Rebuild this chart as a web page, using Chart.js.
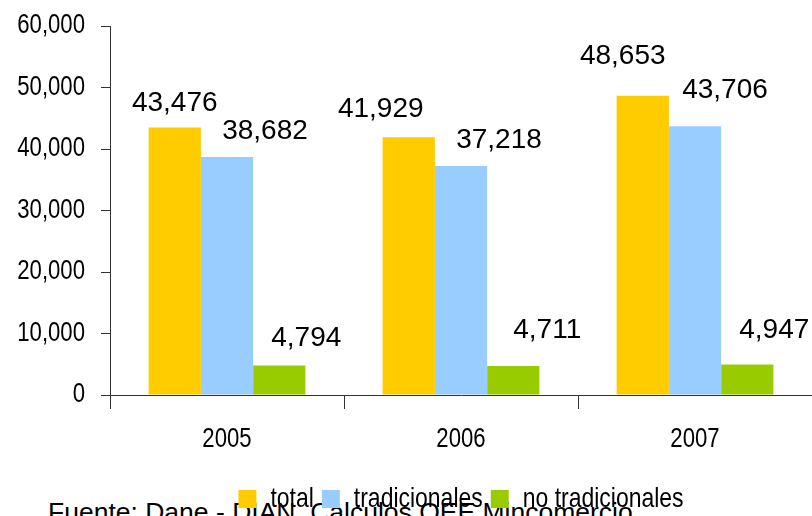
<!DOCTYPE html>
<html>
<head>
<meta charset="utf-8">
<script src="https://cdn.jsdelivr.net/npm/chart.js@4/dist/chart.umd.min.js"></script>
<style>
  html, body { margin: 0; padding: 0; background: #fff; }
  #wrap { position: relative; width: 812px; height: 516px; overflow: hidden; }
  #source { position: absolute; left: 48px; top: 499px; font: 26.5px/1 "Liberation Sans", Arial, sans-serif; color: #000; white-space: nowrap; z-index: 0; }
  canvas { position: absolute; left: 0; top: 0; z-index: 1; }
</style>
</head>
<body>
<div id="wrap">
  <div id="source">Fuente: Dane - DIAN, Calculos OEE Mincomercio</div>
  <canvas id="c" width="812" height="516"></canvas>
</div>
<script>
// ---- data ----
const categories = ['2005', '2006', '2007'];
const seriesNames = ['total', 'tradicionales', 'no tradicionales'];
const totalValues = [43476, 41929, 48653];
const tradicionalesValues = [38682, 37218, 43706];
const noTradicionalesValues = [4794, 4711, 4947];
const yTickValues = [0, 10000, 20000, 30000, 40000, 50000, 60000];

// ---- styling (label placement as in the original, manually nudged labels) ----
const colors = ['#FFCC00', '#99CCFF', '#99CC00'];
const labelShiftX = [[0, -28, -20], [38, 38, 30], [27, 34, 27]];
const labelGapY = [[17, 20, 32], [18, 18, 28], [20, 28, 27]];

function fmt(v) { return String(v).replace(/\B(?=(\d{3})+(?!\d))/g, ','); }

// Narrow text rendering (the original uses an Arial Narrow–like face, not installed here)
const NARROW = 0.82;
const narrow = '"Arial Narrow", "Liberation Sans", Arial, sans-serif';
function patchNarrow(ctx) {
  const origFill = ctx.fillText.bind(ctx);
  const origMeasure = ctx.measureText.bind(ctx);
  const isNarrow = () => /Narrow/.test(ctx.font);
  ctx.fillText = function (t, x, y, maxW) {
    if (!isNarrow()) return maxW === undefined ? origFill(t, x, y) : origFill(t, x, y, maxW);
    ctx.save();
    ctx.translate(x, y);
    ctx.scale(NARROW, 1);
    if (maxW === undefined) origFill(t, 0, 0); else origFill(t, 0, 0, maxW / NARROW);
    ctx.restore();
  };
  ctx.measureText = function (t) {
    const m = origMeasure(t);
    if (!isNarrow()) return m;
    return {
      width: m.width * NARROW,
      actualBoundingBoxAscent: m.actualBoundingBoxAscent,
      actualBoundingBoxDescent: m.actualBoundingBoxDescent,
      actualBoundingBoxLeft: m.actualBoundingBoxLeft * NARROW,
      actualBoundingBoxRight: m.actualBoundingBoxRight * NARROW
    };
  };
}

const valueLabels = {
  id: 'valueLabels',
  afterDatasetsDraw(chart) {
    const ctx = chart.ctx;
    ctx.save();
    ctx.font = '28px "Liberation Sans", Arial, sans-serif';
    ctx.fillStyle = '#000';
    ctx.textAlign = 'center';
    ctx.textBaseline = 'alphabetic';
    chart.data.datasets.forEach((ds, i) => {
      chart.getDatasetMeta(i).data.forEach((bar, j) => {
        ctx.fillText(fmt(ds.data[j]), bar.x + labelShiftX[i][j], bar.y - labelGapY[i][j]);
      });
    });
    ctx.restore();
  }
};

const canvas = document.getElementById('c');
const ctx2d = canvas.getContext('2d');
patchNarrow(ctx2d);

new Chart(ctx2d, {
  type: 'bar',
  data: {
    labels: categories,
    datasets: [
      { label: seriesNames[0], data: totalValues, backgroundColor: colors[0] },
      { label: seriesNames[1], data: tradicionalesValues, backgroundColor: colors[1] },
      { label: seriesNames[2], data: noTradicionalesValues, backgroundColor: colors[2] }
    ]
  },
  options: {
    responsive: false,
    animation: false,
    devicePixelRatio: 1,
    layout: { padding: { top: 26, right: 0, bottom: -7, left: 0 } },
    datasets: { bar: { categoryPercentage: 0.67, barPercentage: 1.0, borderWidth: 0 } },
    scales: {
      x: {
        grid: { display: true, offset: true, drawOnChartArea: false, tickLength: 14, color: '#333', lineWidth: 1 },
        border: { display: true, color: '#333', width: 1 },
        ticks: { color: '#000', font: { family: narrow, size: 27 }, padding: 14 },
        afterFit(scale) { scale.height = 82; }
      },
      y: {
        min: 0, max: 60000,
        afterBuildTicks(scale) { scale.ticks = yTickValues.map(v => ({ value: v })); },
        grid: { display: true, drawOnChartArea: false, tickLength: 9, color: '#333', lineWidth: 1 },
        border: { display: true, color: '#333', width: 1 },
        ticks: { color: '#000', font: { family: narrow, size: 27 }, padding: 16, callback: v => fmt(v) },
        afterFit(scale) { scale.width = 110; scale.paddingTop = 0; scale.paddingBottom = 0; }
      }
    },
    plugins: {
      legend: {
        position: 'bottom',
        fullSize: false,
        labels: { boxWidth: 18, boxHeight: 18, padding: 8, color: '#000', font: { family: narrow, size: 28 } }
      },
      tooltip: { enabled: false }
    }
  },
  plugins: [valueLabels]
});
</script>
</body>
</html>
